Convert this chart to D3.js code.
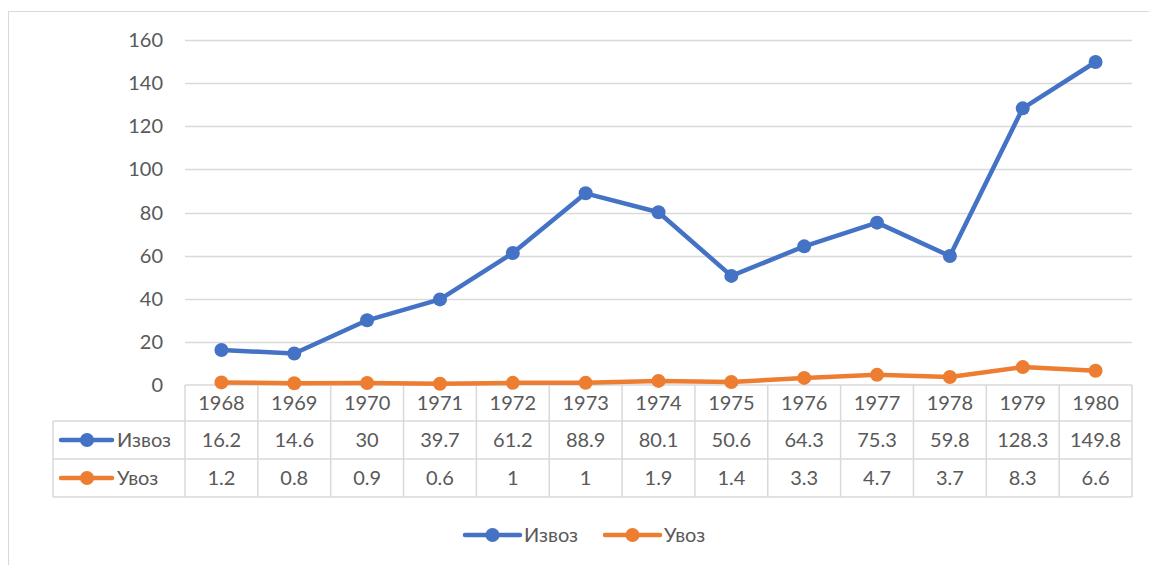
<!DOCTYPE html>
<html><head><meta charset="utf-8">
<script src="https://cdn.jsdelivr.net/npm/d3@7"></script>
<style>body{margin:0;background:#fff;} text{font-family:Lato,"Open Sans",sans-serif;fill:#595959;}</style>
</head><body><svg id="c" width="1149" height="565"></svg>
<script>
const years = ["1968","1969","1970","1971","1972","1973","1974","1975","1976","1977","1978","1979","1980"];
const izvoz = [16.2,14.6,30,39.7,61.2,88.9,80.1,50.6,64.3,75.3,59.8,128.3,149.8];
const uvoz = [1.2,0.8,0.9,0.6,1,1,1.9,1.4,3.3,4.7,3.7,8.3,6.6];
const yTicks = [0,20,40,60,80,100,120,140,160];
const seriesNames = ["Извоз","Увоз"];
const colors = ["#4472C4","#ED7D31"];
const FS = 20;

const svg = d3.select("#c");
svg.append("rect").attr("x",8.5).attr("y",11.5).attr("width",1160).attr("height",600)
  .attr("fill","none").attr("stroke","#D9D9D9");

const L=185, R=1132, T=40, B=385;
const x = d3.scaleBand().domain(years).range([L,R]);
const y = d3.scaleLinear().domain([0,160]).range([B,T]);

svg.append("g").selectAll("line").data(yTicks.filter(d=>d>0)).join("line")
  .attr("x1",L).attr("x2",R).attr("y1",d=>Math.round(y(d))+0.5).attr("y2",d=>Math.round(y(d))+0.5)
  .attr("stroke","#D9D9D9").attr("stroke-width",1.3);
svg.append("g").selectAll("text").data(yTicks).join("text")
  .attr("x",163).attr("y",d=>y(d)).attr("dy","0.35em").attr("text-anchor","end")
  .attr("font-size",FS).text(d=>d);

const rowTops=[385,421,459,497];
const tableLeft=53;
const g=svg.append("g").attr("stroke","#D9D9D9").attr("stroke-width",1.5).attr("fill","none");
g.append("line").attr("x1",L).attr("x2",R).attr("y1",385).attr("y2",385);
[421,459,497].forEach(v=>g.append("line").attr("x1",tableLeft).attr("x2",R).attr("y1",v).attr("y2",v));
const bounds = years.map(d=>x(d)).concat([R]);
g.selectAll("line.v").data(bounds).join("line").attr("class","v")
  .attr("x1",d=>d).attr("x2",d=>d).attr("y1",385).attr("y2",497);
g.append("line").attr("x1",tableLeft).attr("x2",tableLeft).attr("y1",421).attr("y2",497);

const cx = d=>x(d)+x.bandwidth()/2;
svg.append("g").selectAll("text").data(years).join("text")
  .attr("x",cx).attr("y",(rowTops[0]+rowTops[1])/2).attr("dy","0.35em")
  .attr("text-anchor","middle").attr("font-size",FS).text(d=>d);
[izvoz,uvoz].forEach((arr,i)=>{
  svg.append("g").selectAll("text").data(arr).join("text")
    .attr("x",(d,j)=>cx(years[j])).attr("y",(rowTops[i+1]+rowTops[i+2])/2).attr("dy","0.35em")
    .attr("text-anchor","middle").attr("font-size",FS).text(d=>d);
  const ry=(rowTops[i+1]+rowTops[i+2])/2;
  svg.append("line").attr("x1",61).attr("x2",112).attr("y1",ry).attr("y2",ry)
    .attr("stroke",colors[i]).attr("stroke-width",4.5).attr("stroke-linecap","round");
  svg.append("circle").attr("cx",87).attr("cy",ry).attr("r",7).attr("fill",colors[i]);
  svg.append("text").attr("x",117).attr("y",ry).attr("dy","0.35em").attr("font-size",FS).text(seriesNames[i]);
});

[izvoz,uvoz].forEach((arr,i)=>{
  const line=d3.line().x((d,j)=>cx(years[j])).y(d=>y(d));
  svg.append("path").datum(arr).attr("d",line).attr("fill","none")
    .attr("stroke",colors[i]).attr("stroke-width",4.5).attr("stroke-linejoin","round").attr("stroke-linecap","round");
  svg.append("g").selectAll("circle").data(arr).join("circle")
    .attr("cx",(d,j)=>cx(years[j])).attr("cy",d=>y(d)).attr("r",7).attr("fill",colors[i]);
});

const legX=[465,605];
seriesNames.forEach((n,i)=>{
  const ly=535;
  svg.append("line").attr("x1",legX[i]).attr("x2",legX[i]+55).attr("y1",ly).attr("y2",ly)
    .attr("stroke",colors[i]).attr("stroke-width",4.5).attr("stroke-linecap","round");
  svg.append("circle").attr("cx",legX[i]+27.5).attr("cy",ly).attr("r",7).attr("fill",colors[i]);
  svg.append("text").attr("x",legX[i]+59).attr("y",ly).attr("dy","0.35em").attr("font-size",FS).text(n);
});
</script></body></html>
